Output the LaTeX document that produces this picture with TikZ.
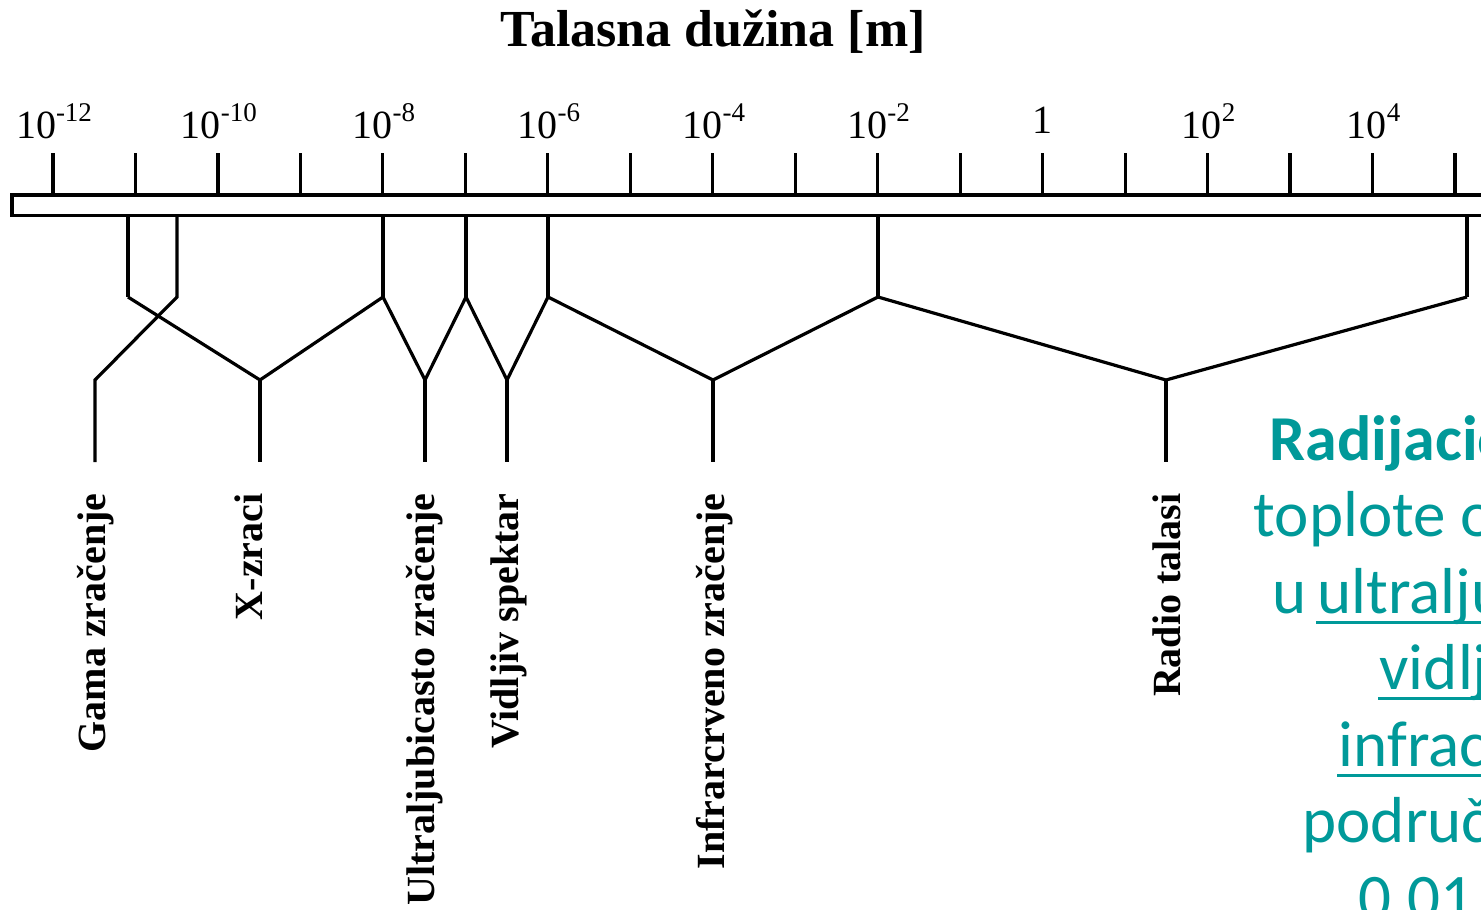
\documentclass[tikz,border=0pt]{standalone}
\usepackage{fontspec}
\setmainfont{Liberation Serif}
\newfontfamily\notefont{Carlito}
\definecolor{notecolor}{RGB}{0,153,153}
% raised exponent of a tick label
\newcommand\pw[1]{\raisebox{17pt}{\fontsize{27}{27}\selectfont #1}}
\begin{document}
\begin{tikzpicture}[x=1pt,y=-1pt,line width=3.2pt,line join=miter,
  titletext/.style={font=\fontsize{52}{60}\selectfont\bfseries,anchor=base,inner sep=0pt},
  ticklabel/.style={font=\fontsize{40}{48}\selectfont,anchor=base,inner sep=0pt},
  bandlabel/.style={font=\fontsize{40}{48}\selectfont\bfseries,rotate=90,anchor=base east,inner sep=0pt},
  notetext/.style={font=\notefont\fontsize{65}{76}\selectfont,text=notecolor,anchor=base west,inner sep=0pt},
  noteline/.style={draw=notecolor,line width=3pt}]
\clip (0,0) rectangle (1481,910);
\fill[white] (0,0) rectangle (1481,910);

% title
\node[titletext] (title) at (713,46) {Talasna dužina [m]};

% scale bar with ticks
\draw[fill=white] (12,195) rectangle (1600,215.5);
\foreach \i in {0,...,17}
  \draw ({53+82.47*\i},153) -- ({53+82.47*\i},195);

% tick labels
\node[ticklabel] (l12) at (54,138) {10\pw{-12}};
\node[ticklabel] (l10) at ({54+82.47*2},138) {10\pw{-10}};
\node[ticklabel] (l8)  at ({54+82.47*4},138) {10\pw{-8}};
\node[ticklabel] (l6)  at ({54+82.47*6},138) {10\pw{-6}};
\node[ticklabel] (l4)  at ({54+82.47*8},138) {10\pw{-4}};
\node[ticklabel] (l2)  at ({54+82.47*10},138) {10\pw{-2}};
\node[ticklabel] (l0)  at ({53+82.47*12},133) {1};
\node[ticklabel] (p2)  at ({54+82.47*14},138) {10\pw{2}};
\node[ticklabel] (p4)  at ({54+82.47*16},138) {10\pw{4}};

% band limits on the bar
\coordinate (bx) at (128,215.5);  \coordinate (kx) at (128,297);
\coordinate (bg) at (177,215.5);  \coordinate (kg) at (177,297);
\coordinate (b8) at (383,215.5);  \coordinate (k8) at (383,297);
\coordinate (b7) at (466,215.5);  \coordinate (k7) at (466,297);
\coordinate (b6) at (548,215.5);  \coordinate (k6) at (548,297);
\coordinate (b2) at (878,215.5);  \coordinate (k2) at (878,297);
\coordinate (b5) at (1467,215.5); \coordinate (k5) at (1467,297);

% hubs and leader ends
\coordinate (hg) at (95,380);   \coordinate (eg) at (95,462);
\coordinate (hx) at (260,380);  \coordinate (ex) at (260,462);
\coordinate (hu) at (425,380);  \coordinate (eu) at (425,462);
\coordinate (hv) at (507,380);  \coordinate (ev) at (507,462);
\coordinate (hi) at (713,380);  \coordinate (ei) at (713,462);
\coordinate (hr) at (1166,380); \coordinate (er) at (1166,462);

% connectors
\draw (bx) -- (kx);
\draw (bg) -- (kg) -- (hg) -- (eg);
\draw (b8) -- (k8);
\draw (b7) -- (k7);
\draw (b6) -- (k6);
\draw (b2) -- (k2);
\draw (b5) -- (k5);
\draw (kx) -- (hx) -- (k8) -- (hu) -- (k7) -- (hv) -- (k6) -- (hi) -- (k2) -- (hr) -- (k5);
\draw (hx) -- (ex);
\draw (hu) -- (eu);
\draw (hv) -- (ev);
\draw (hi) -- (ei);
\draw (hr) -- (er);

% band names
\node[bandlabel] (gama)  at (105,492)  {Gama zračenje};
\node[bandlabel] (xray)  at (262,492)  {X-zraci};
\node[bandlabel] (uv)    at (434,492)  {Ultraljubicasto zračenje};
\node[bandlabel] (vis)   at (518,492)  {Vidljiv spektar};
\node[bandlabel] (ir)    at (724,492)  {Infrarcrveno zračenje};
\node[bandlabel] (radio) at (1180,492) {Radio talasi};

% side note
\node[notetext,font=\notefont\bfseries\fontsize{64}{76}\selectfont] (n1) at (1268,460) {Radijacio};
\node[notetext] (n2) at (1252,536.5) {toplote o};
\node[notetext] (n3) at (1271,613) {u};
\node[notetext] (n3u) at (1316,613) {ultralju};
\node[notetext] (n4) at (1378,689.5) {vidlj};
\node[notetext] (n5) at (1337,766) {infrac};
\node[notetext] (n6) at (1301,842.5) {područj};
\node[notetext] (n7) at (1357,919) {0.01};
\draw[noteline] ([yshift=-9pt]n3u.base west) -- ++(300,0);
\draw[noteline] ([yshift=-9pt]n4.base west) -- ++(300,0);
\draw[noteline] ([yshift=-9pt]n5.base west) -- ++(300,0);
\end{tikzpicture}
\end{document}
